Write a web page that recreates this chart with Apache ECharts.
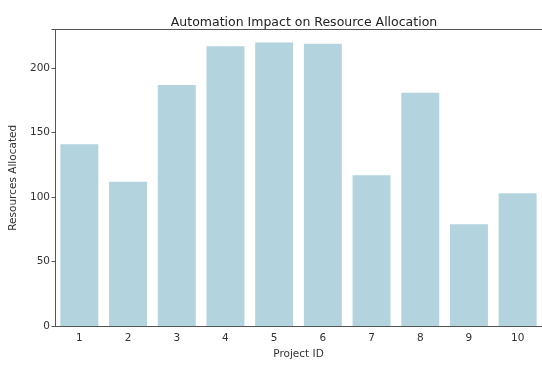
<!DOCTYPE html>
<html>
<head>
<meta charset="utf-8">
<script src="https://cdn.jsdelivr.net/npm/echarts@6/dist/echarts.min.js"></script>
<style>
  html, body { margin: 0; padding: 0; background: #fff; }
  #chart { width: 542px; height: 365px; }
</style>
</head>
<body>
<div id="chart"></div>
<script>
// values
const projectIds = ["1", "2", "3", "4", "5", "6", "7", "8", "9", "10"];
const resources = [141, 112, 187, 217, 220, 219, 117, 181, 79, 103];
const yTicks = [0, 50, 100, 150, 200];

const FONT = "DejaVu Sans";
const TEXT = "#333";
const SPINE = "#555";

const chart = echarts.init(document.getElementById("chart"), null, { renderer: "canvas" });

// top and right frame lines, no ticks or labels
const spineOnly = {
  show: true,
  axisLine: { show: true, onZero: false, lineStyle: { color: SPINE, width: 1 } },
  axisTick: { show: false },
  axisLabel: { show: false },
  splitLine: { show: false },
};

const option = {
  animation: false,
  backgroundColor: "#fff",
  title: {
    text: "Automation Impact on Resource Allocation",
    left: 299,
    textAlign: "center",
    top: 11,
    textStyle: { fontFamily: FONT, fontSize: 12.5, fontWeight: "normal", color: "#222" },
  },
  grid: { left: 55, top: 29.5, width: 489, height: 302.5, containLabel: false },
  xAxis: [
    {
      type: "category",
      data: projectIds,
      boundaryGap: true,
      name: "Project ID",
      nameLocation: "middle",
      nameGap: 22,
      nameTextStyle: { fontFamily: FONT, fontSize: 10.5, color: TEXT },
      axisLine: { lineStyle: { color: SPINE, width: 1 } },
      axisTick: { alignWithLabel: true, length: 3.5, lineStyle: { color: SPINE } },
      axisLabel: { fontFamily: FONT, fontSize: 10.5, color: TEXT, margin: 7 },
      splitLine: { show: false },
    },
    Object.assign({ type: "category", position: "top", data: projectIds }, spineOnly),
  ],
  yAxis: [
    {
      type: "value",
      min: 0,
      max: 230,
      interval: 50,
      name: "Resources Allocated",
      nameLocation: "middle",
      nameGap: 33,
      nameTextStyle: { fontFamily: FONT, fontSize: 10.5, color: TEXT },
      axisLine: { show: true, lineStyle: { color: SPINE, width: 1 } },
      axisTick: { show: true, length: 3.5, lineStyle: { color: SPINE } },
      axisLabel: {
        fontFamily: FONT,
        fontSize: 10.5,
        color: TEXT,
        margin: 5,
        formatter: (v) => (yTicks.includes(v) ? String(v) : ""),
      },
      splitLine: { show: false },
    },
    Object.assign({ type: "value", position: "right", min: 0, max: 230 }, spineOnly),
  ],
  series: [
    {
      type: "bar",
      data: resources,
      barWidth: "78%",
      itemStyle: { color: "#b3d4df" },
      silent: true,
    },
  ],
};

chart.setOption(option);
</script>
</body>
</html>
